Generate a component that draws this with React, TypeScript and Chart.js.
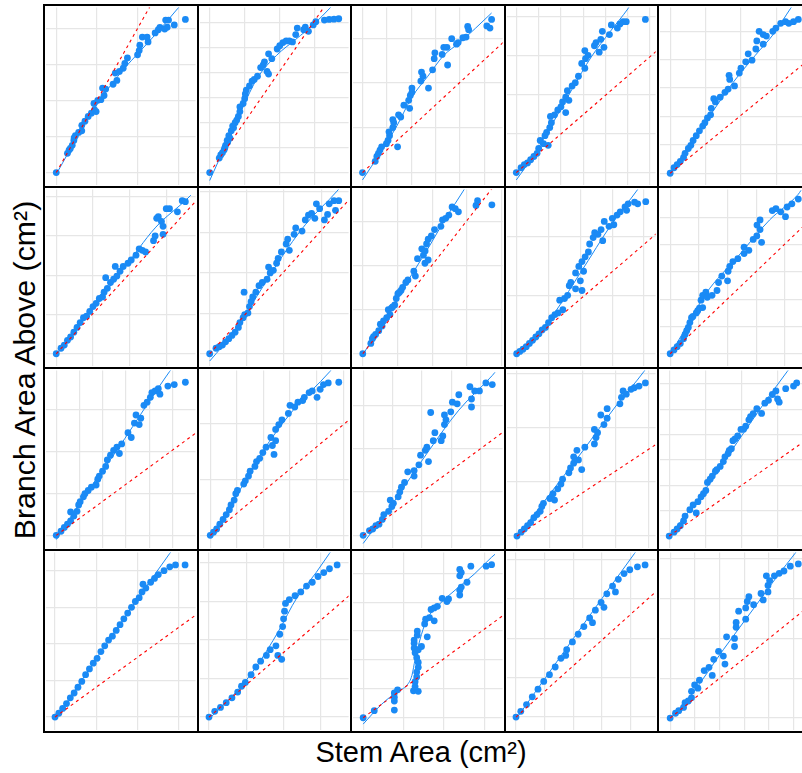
import React, { useEffect, useRef } from "react";
import { Chart, registerables } from "chart.js";
Chart.register(...registerables);

// ---- Panel layout (pixels of the facet grid) ----
const COL_LEFT = [44, 198, 351, 505, 658, 812];
const ROW_TOP = [5, 187, 368, 550, 732];

// ---- Data: stem area (x) vs branch area above (y), per tree panel ----
const r1c1Stem = [9.3,21,22.7,24,26,27.7,28,29.3,32.7,36,36,39.3,42.7,46,49.3,51,48.7,52.7,56,59.3,57.7,61,68.7,72.7,71,75.3,79.3,81,83.7,94.3,96,96.7,99.3,104.3,105.3,112.7,116,117.7,122.7,125.3,123.7,126.7,132.7,144.3];
const r1c1Branch = [11.5,31.5,34.8,36.5,39.8,44.8,47.5,49.8,53.2,54.8,60.5,64.8,69.8,73.2,76.5,74.8,83.2,86.5,87.2,91.5,99.2,98.2,103.2,107.2,114.8,116.5,119.8,124.8,130.5,133.8,138.2,143.8,152.2,152.2,147.2,156.5,159.8,162.2,160.5,162.5,169.8,169.8,164.8,170.5];
const r1c1FitStem = [9.3,36,56,79.3,96,116,136,140];
const r1c1FitBranch = [9.8,56.5,88.2,118.2,136.5,158.2,181.5,186];

const r1c2Stem = [8.7,18.7,20.3,23.7,25.3,27,28.7,31.3,32.7,35.3,38.7,40.3,40.3,43.7,45.3,46,47,50.3,53,55.3,58.7,62,64.7,66,68.7,70.3,70.3,73.7,79.3,82,85.3,88.7,92,95.3,98.7,100.3,107,108.7,112,117,119.7,128.7,133.7,138.7,143.7,22,24.5,27.5,30,33.7,37];
const r1c2Branch = [11.5,26.5,29.8,34.8,39.8,44.8,49.8,54.8,59.8,63.2,69.8,74.8,79.8,83.2,88.2,93.2,97.2,101.5,106.5,108.2,111.5,120.5,123.2,126.5,116.5,113.8,134.8,129.8,139.8,143.2,146.5,148.2,148.2,147.2,154.8,161.5,159.8,162.5,158.2,164.8,168.2,169.8,170.5,170.8,171.2,32,37,43,47,58,66];
const r1c2FitStem = [8.7,25.3,42,58.7,78.7,98.7,118.7,133.7,138];
const r1c2FitBranch = [3.2,39.8,76.5,109.8,133.2,149.8,166.5,181.5,186];

const r1c3Stem = [8.5,21.8,23.5,25.2,26.8,28.5,33.5,35.2,36.8,36.2,45.2,40.2,41.2,40.2,46.2,48.5,51.8,56.8,57.8,58.5,60.2,60.2,69.5,71.8,70.2,77.5,81.8,83.5,84.2,91.8,93.5,96.8,97.5,101.8,106.8,108.5,113.5,116.8,118.5,119.5,138.5,141.8,143.5];
const r1c3Branch = [11.5,23.2,28.2,31.5,34.8,38.2,41.5,44.8,49.8,53.8,38.2,58.2,63.2,66.5,71.5,69.2,81.5,86.5,78.2,91.5,94.8,99.2,106.5,111.5,115.8,99.2,118.2,129.8,135.8,134.2,141.5,141.5,123.2,150.5,144.8,146.5,151.5,152.2,163.2,159.8,163.8,161.5,170.5];
const r1c3FitStem = [8.5,26.8,43.5,60.2,76.8,93.5,110.2,126.8,143.5];
const r1c3FitBranch = [3.8,31.5,58.2,89.8,111.5,133.2,146.5,161.5,177.2];

const r1c4Stem = [8.3,13.3,16.7,20,23.3,26.7,30,31.7,36.7,33.3,38.3,41.7,40,43.3,45,44,48.3,51.7,55,56.7,60,60,61.7,63.3,66.7,70,73.3,76.7,80,80.7,83.3,80,90,91.7,95,96.7,98.3,100,105.7,107.7,114,116.7,120,123.3,143.3];
const r1c4Branch = [11.5,16.5,19.8,21.5,24.8,28.2,31.5,36.5,41.5,44.8,49.8,39.8,53.2,58.2,63.2,69.8,71.5,76.5,79.8,84.8,73.8,89.8,96.5,86.5,101.5,104.8,111.5,124.8,119.8,129.8,133.2,138.2,143.2,146.5,136.5,149.8,158.2,141.5,154.8,164.8,161.5,165.8,168.2,168.2,170.5];
const r1c4FitStem = [8.3,26.7,46.7,66.7,86.7,106.7,125,128];
const r1c4FitBranch = [3.8,29.8,63.2,98.2,131.5,158.2,181.5,186];

const r1c5Stem = [9.2,13.2,16.5,19.8,23.2,24.8,28.2,30.8,33.2,36.5,39.8,43.2,45.5,48.2,51.5,52.2,54.8,56.5,61.5,66.5,69.8,71.5,70.8,76.5,81.5,83.2,88.2,90.8,94.8,98.8,99.8,106.5,102.2,106.5,109.8,116.5,119.8,124.8,129.8,133.2,138.2,143.2];
const r1c5Branch = [10.8,16.5,19.8,23.2,27.2,31.5,36.5,39.8,44.8,49.8,54.8,59.8,63.2,68.2,71.5,78.2,88.2,84.8,89.8,94.8,98.2,108.2,112.5,101.5,114.8,119.8,126.5,134.8,128.2,139.8,148.2,144.8,158.2,154.8,153.2,158.2,161.5,166.5,168.2,166.5,168.2,170.5];
const r1c5FitStem = [9.2,31.5,54.8,74.8,98.2,118.2,134.8,138];
const r1c5FitBranch = [9.8,43.2,76.5,104.8,133.2,156.5,181.5,186];

const r2c1Stem = [9.3,14.3,17.7,21,24.3,27.7,31,34.3,37.7,41,44.3,47.7,51,54.3,57.7,59.3,62.7,61,66,69.3,71,72.7,76,79.3,84.3,87.7,92.7,96,99.3,102.7,111,112.7,114.3,116,119.3,121,121,124.3,127.7,136,141,144.3];
const r2c1Branch = [11.3,17,20.3,25.3,28.7,33.7,38.7,43.7,48.7,50.3,55.3,60.3,63.7,68.7,70.3,75.3,79.3,90.3,85.3,88.7,102,92,97,102,105.3,108.7,113.7,120.3,118.7,117,128.7,133.7,152,153.7,148.7,143.7,135.3,162,162,158.7,170.3,169.3];
const r2c1FitStem = [9.3,46,79.3,112.7,146,150];
const r2c1FitBranch = [10.3,57,98.7,142,172,176];

const r2c2Stem = [8.7,15.3,18.7,22,25.3,28.7,32,35.3,38.7,40.3,43.7,45.3,48.7,44.7,50.3,52,53.7,57,60.3,63.7,68.7,72,70.3,75.3,78.7,80.3,83.7,88.7,90.3,92,97,98.7,105.3,108.7,112,115.3,118.7,120.3,123.7,128.7,132,133.7,138.7,143.7,140.3];
const r2c2Branch = [11.3,17,18.7,20.3,23.7,27,30.3,33.7,38.7,43.7,48.7,52,53.7,75.3,60.3,65.3,70.3,75.3,82,85.3,88.7,95.3,101.3,98,105.3,110.3,117,125.3,130.3,118.7,135.3,142,138.7,150.3,155.3,157,152,167,162,150.3,156,167,170.3,170.3,160.3];
const r2c2FitStem = [8.7,35.3,58.7,82,108.7,142,145];
const r2c2FitBranch = [3.7,35.3,72,108.7,145.3,180.3,184];

const r2c3Stem = [8.8,17.2,18.8,22.2,25.5,27.2,30.5,33.8,37.2,35.5,38.8,42.2,43.8,45.5,48.8,50.5,53.8,62.2,63.8,70.5,72.2,73.8,77.2,75.5,77.2,80.5,83.8,90.5,92.2,95.5,98.8,102.2,105.5,108.8,127.2,128.8,143.8,20,29,40,47,56,66,74];
const r2c3Branch = [11.3,22,27,31.3,35.3,42,45.3,48.7,52,57,58.7,62,68.7,73.7,77,80.3,85.3,97,92,120.3,113.7,105.3,108.7,125.3,130.3,133.7,140.3,143.7,150.3,152,155.3,163.7,162,158.7,165.3,170.3,166,29,40,60,75,88,110,118];
const r2c3FitStem = [8.8,28.8,45.5,62.2,78.8,95.5,113.8,116];
const r2c3FitBranch = [10.3,42,70.3,97,123.7,152,180.3,184];

const r2c4Stem = [8.7,12,15.3,18.7,22,25.3,28.7,32,35.3,38.7,42,45.3,48.7,52,57,53.7,58.7,62,63.7,65.3,70.3,77,75.3,70.3,73.7,77,78.7,80.3,83.7,85,88.7,90.3,93.7,97,98.7,100.3,105.3,108.7,110.3,113.7,117,122,125.3,123.7,132,135.3,143.7];
const r2c4Branch = [11.3,13.7,16,18.7,22,25.3,28.7,32,36,38.7,43.7,48.7,52,53.7,57,67,68.7,72,82,85.3,78.7,77,87,95.3,102,107,97,112,117,125.3,132,137,135.3,140.3,128.7,148.7,143.7,152,145.3,155.3,158.7,163.7,167,160.3,168.7,167,169.3];
const r2c4FitStem = [8.7,42,75.3,108.7,135.3,138];
const r2c4FitBranch = [11.3,45.3,95.3,147,182,186];

const r2c5Stem = [9.2,13.2,16.5,19.8,23.2,24.8,26.5,28.2,29.8,31.5,36.5,39.8,43.2,41.5,43.2,46.5,58.2,59.8,63.2,69.2,69.8,71.5,74.8,86.5,86.5,91.5,99.8,103.2,103.2,104.8,119.8,124.8,129.8,131.5,136.5,143.2,33,38,48,53,80,96,100,116];
const r2c5Branch = [11.3,15.3,18.7,22,27,31.3,35.3,38.7,43.7,48.7,53.7,58.7,59.3,67,72,75.3,77,85.3,92,87,97,102,107,115.3,122,118.7,133.7,140.3,150.3,127,162,158.7,153.7,163.7,167,172,50,56,70,72,110,130,145,160];
const r2c5FitStem = [9.2,29.8,46.5,79.8,113.2,143.2,146];
const r2c5FitBranch = [10.3,45.3,73.7,112,150.3,177,181];

const r3c1Stem = [9.3,14.3,17.7,21,24.3,24.3,27.7,31,32.7,34.3,37.7,39.3,42.7,46,51,52.7,54.3,57.7,61,62.7,66,69.3,72.7,75.3,77.7,84.3,87.7,91,92.7,96,97.7,101,104.3,107.7,109.3,112.7,116,117.7,126,132.7,144.3];
const r3c1Branch = [11.7,16,20,23.3,26.7,36,31.7,36.7,43.3,46.7,51.7,55,58.3,61.7,64,70,73.3,78.3,83.3,90,95,100,103.3,96.7,106.7,118.3,113.3,128.3,136.7,126.7,133.3,146.7,150,155,160,161.7,164,158.3,166.7,168.3,170.7];
const r3c1FitStem = [9.3,39.3,72.7,106,127.7,131];
const r3c1FitBranch = [7.3,53.3,100,150,181.7,186];

const r3c2Stem = [9.3,12.7,16,19.3,22.7,26,29.3,31,34.3,36,37.7,44.3,46,49.3,51,56,57.7,61,64.3,67.7,72.7,74.3,76,77.7,77.7,81,84.3,91,92.7,97.7,101,106,107.7,112.7,116,121,124.3,127.7,132.7,143.7];
const r3c2Branch = [11.7,15,18.3,23.3,28.3,33.3,38.3,43.3,48.3,55,58.3,65,68.3,73.3,78.3,83.3,88.3,91.7,97.7,103.3,113.3,105,95.7,110,121.7,126.7,131.7,138.3,146.7,145,150,151.7,155,160,161.7,155,163.3,168.3,170,170.7];
const r3c2FitStem = [9.3,29.3,62.7,96,134.3,137];
const r3c2FitBranch = [10,40,96.7,141.7,181.7,185];

const r3c3Stem = [9.2,15.8,19.2,22.5,25.8,29.2,30.8,35.8,39.2,40.8,37.5,45.8,47.5,49.2,52.5,55.8,62.5,62.5,67.5,69.2,77.5,74.2,75.8,82.5,84.2,90.8,92.5,94.2,95.8,94.2,79.8,100.8,102.5,107.5,109.2,122.5,122.5,120.8,125.8,130.8,137.5,144.2];
const r3c3Branch = [11.7,16.7,18.3,21.7,23.3,28.3,33.3,36.7,41.7,45,48.3,51.7,56.7,61.7,66.7,77.7,73.3,79,85,95,88.3,100,103.3,110,118.3,110,115,126.7,131.7,136.7,139.3,140,150,148.3,157.7,153.3,145,166,161.7,161.7,170,168.3];
const r3c3FitStem = [9.2,42.5,75.8,109.2,144.2,147];
const r3c3FitBranch = [3.3,48.3,96.7,141.7,177.7,181];

const r3c4Stem = [9,13.3,16.7,20,23.3,26.7,30,33.3,35,36.7,43.3,48.3,46.7,51.7,55,56.7,63.3,65,68.3,68.3,71.7,73.3,76.7,80,90,91.7,90,93.3,96.7,100,103.3,103.3,116.7,118.3,120,123.3,128.3,131.7,136.7,143.3];
const r3c4Branch = [11,15,18.3,21.7,25,30,33.3,36.7,41.7,45,50,48.3,55,60,65,70,76.7,81.7,86.7,93.3,100,90,80,103.3,106.7,113.3,121.7,118.3,136.7,126.7,133.3,143.3,148.3,155,161.7,158.3,163.3,165,166.7,170];
const r3c4FitStem = [9,45,78.3,111.7,141.7,144];
const r3c4FitBranch = [10,56.7,100,145,181.7,185];

const r3c5Stem = [8.2,13.2,16.5,19.8,23.2,24.8,29.8,33.2,36.5,38.2,41.5,46.5,48.2,53.2,56.5,61.5,64.8,66.5,69.8,73.2,74.8,79.8,83.2,88.2,91.5,93.2,99.8,104.8,108.2,119.8,121.5,123.2,138.2,141.5,44,51,58,71,77,86,96,112,116,130];
const r3c5Branch = [11,15,18.3,21.7,26.7,31.7,38.3,43.3,35,46.7,51.7,58.3,66.7,73.3,78.3,83.3,88.3,93.3,96.7,101.7,110,115,121.7,125,131.7,135,143.3,138.3,149,161.7,153.3,150,166.7,170,55,70,80,100,112,122,138,152,158,164];
const r3c5FitStem = [8.2,41.5,74.8,108.2,131.5,134];
const r3c5FitBranch = [11,53.3,101.7,150,181.7,185];

const r4c1Stem = [8,12,16,20,24,28,32,36,40,44,48,52,56,60,64,68,72,76,80,84,88,92,96,99,103,100,108,112,116,122,128,134,144];
const r4c1Branch = [12,16,21,26,32,37,43,49,56,62,68,73,80,86,92,96,102,108,114,120,126,132,136,142,146,150,152,156,160,164,168,170,170];
const r4c1FitStem = [8,56,96,128,131];
const r4c1FitBranch = [9,80,137,182,186];

const r4c2Stem = [8,14,20,26,32,38,42,46,52,57,62,68,72,78,82,85,86,87,88,80,84,92,98,104,110,116,122,128,134,142];
const r4c2Branch = [12,18,22,27,32,38,44,48,56,64,70,76,82,86,98,106,114,122,130,76,72,134,138,142,148,152,158,162,166,170];
const r4c2FitStem = [8,40,60,80,100,120,134,137];
const r4c2FitBranch = [10,42,68,100,136,162,182,186];

const r4c3Stem = [9.2,20.8,41.8,41.8,41.8,41.8,45.2,61.8,66.8,63.5,63.5,65.2,65.2,66.8,66.8,65.2,63.5,62.5,62.5,62.5,66.8,70.2,65.8,65.8,76.2,73.5,74.5,78.5,83.5,80.2,83.5,86.8,91.8,96.8,98.5,110.2,110.2,111.8,117.8,110.2,110.2,111.8,121.8,137.8,143.5];
const r4c3Branch = [11.3,18.7,19.3,28.7,32.7,37,40.3,39.3,38.7,43.7,48.7,53.7,58.7,63.7,68.7,73.7,78.7,83.7,88.7,92,82,85.3,97,101.3,95.3,108.7,113.7,115.3,112,123.7,125.3,127,135.3,132,134.7,138.7,143.7,147,152,158.7,165.3,162,168.7,168.7,170.3];
const r4c3FitStem = [9.2,28.5,45.2,55.2,60.2,63.5,68.5,75.2,88.5,105.2,125.2,143.5,147];
const r4c3FitBranch = [4.7,25.3,38.7,45.3,55.3,72,92,112,128.7,143.7,160.3,178,181];

const r4c4Stem = [8,13,19,25,31,37,43,49,55,61,67,73,79,85,91,97,103,109,115,121,127,135,143,60,88,100,112];
const r4c4Branch = [12,18,25,33,41,49,56,64,73,82,90,98,106,115,123,131,140,148,155,161,165,168,170,76,110,126,142];
const r4c4FitStem = [8,132,135];
const r4c4FitBranch = [10,182,186];

const r4c5Stem = [9.2,14.8,18.2,23.2,24.8,28.2,31.5,31.5,34.8,38.2,39.8,44.8,49.8,53.2,54.8,59.8,64.8,66.5,68.2,76.5,76.5,78.2,78.2,80.8,88.2,88.2,89.8,91.5,96.5,104.2,106.5,111.5,111.5,113.2,109.8,118.2,123.2,128.2,134.8,143.2];
const r4c5Branch = [11,16,18.7,22,27,28.7,32,38.7,45.3,42,50.3,60.3,63.7,55.3,72,80.3,75.3,67,95.3,85.3,93.7,105.3,110.3,122,113.7,125.3,132,137,128.7,140.3,133.7,142,148.7,153.7,158.7,158.7,161.3,163.7,168.7,171];
const r4c5FitStem = [9.2,31.5,64.8,98.2,121.5,139.8,142];
const r4c5FitBranch = [10.3,35.3,82,127,158.7,182,185];

// slope (on screen units) of the 1:1 reference line for each panel
const refSlopes = [1.76, 1.437, 0.919, 0.86, 0.813, 1.086, 1.098, 1.27, 0.853, 0.95, 0.728, 0.826, 0.733, 0.654, 0.696, 0.72, 0.86, 0.726, 0.89, 0.8];
// grid spacing per panel
const gridStepX = [42.5, 36.7, 25.5, 23.3, 37, 38.3, 38.9, 36.3, 33.3, 30, 24.3, 27.8, 30.7, 34.4, 37.8, 43, 39, 42.2, 30, 25.8];
const gridStepY = [37.5, 26, 46.5, 40.5, 29.5, 40.8, 42, 45.7, 60.7, 28.3, 43.7, 57.8, 45, 56.3, 26.3, 38, 40, 30, 41, 41.3];

const stems = [r1c1Stem, r1c2Stem, r1c3Stem, r1c4Stem, r1c5Stem, r2c1Stem, r2c2Stem, r2c3Stem, r2c4Stem, r2c5Stem, r3c1Stem, r3c2Stem, r3c3Stem, r3c4Stem, r3c5Stem, r4c1Stem, r4c2Stem, r4c3Stem, r4c4Stem, r4c5Stem];
const branches = [r1c1Branch, r1c2Branch, r1c3Branch, r1c4Branch, r1c5Branch, r2c1Branch, r2c2Branch, r2c3Branch, r2c4Branch, r2c5Branch, r3c1Branch, r3c2Branch, r3c3Branch, r3c4Branch, r3c5Branch, r4c1Branch, r4c2Branch, r4c3Branch, r4c4Branch, r4c5Branch];
const fitStems = [r1c1FitStem, r1c2FitStem, r1c3FitStem, r1c4FitStem, r1c5FitStem, r2c1FitStem, r2c2FitStem, r2c3FitStem, r2c4FitStem, r2c5FitStem, r3c1FitStem, r3c2FitStem, r3c3FitStem, r3c4FitStem, r3c5FitStem, r4c1FitStem, r4c2FitStem, r4c3FitStem, r4c4FitStem, r4c5FitStem];
const fitBranches = [r1c1FitBranch, r1c2FitBranch, r1c3FitBranch, r1c4FitBranch, r1c5FitBranch, r2c1FitBranch, r2c2FitBranch, r2c3FitBranch, r2c4FitBranch, r2c5FitBranch, r3c1FitBranch, r3c2FitBranch, r3c3FitBranch, r3c4FitBranch, r3c5FitBranch, r4c1FitBranch, r4c2FitBranch, r4c3FitBranch, r4c4FitBranch, r4c5FitBranch];

const BLUE = "#1a8af5";
const FONT = "'Liberation Sans', Arial, Helvetica, sans-serif";

const pairs = (xs: number[], ys: number[]) => {
  const n = Math.min(xs.length, ys.length);
  const out: { x: number; y: number }[] = [];
  for (let i = 0; i < n; i++) out.push({ x: xs[i], y: ys[i] });
  return out;
};

const gridTicks = (origin: number, step: number, min: number, max: number) => {
  const t: { value: number }[] = [];
  let v = origin;
  while (v - step >= min) v -= step;
  for (; v <= max; v += step) t.push({ value: v });
  return t;
};

const borderPlugin = {
  id: "panelBorder",
  afterDraw(chart: any) {
    const ctx = chart.ctx;
    ctx.save();
    ctx.strokeStyle = "#000";
    ctx.lineWidth = 2;
    ctx.strokeRect(1, 1, chart.width - 2, chart.height - 2);
    ctx.restore();
  },
};

function Panel({ idx }: { idx: number }) {
  const ref = useRef<HTMLCanvasElement>(null);
  const r = Math.floor(idx / 5);
  const c = idx % 5;
  const left = COL_LEFT[c] - 1;
  const top = ROW_TOP[r] - 1;
  const w = COL_LEFT[c + 1] - COL_LEFT[c] + 2;
  const h = ROW_TOP[r + 1] - ROW_TOP[r] + 2;

  useEffect(() => {
    if (!ref.current) return;
    const xs = stems[idx];
    const ys = branches[idx];
    const x0 = xs[0];
    const y0 = ys[0];
    const s = refSlopes[idx];
    const far = 400;
    const xMin = -1, xMax = w - 1, yMin = -1, yMax = h - 1;
    const chart = new Chart(ref.current, {
      type: "scatter",
      data: {
        datasets: [
          {
            data: [{ x: x0, y: y0 }, { x: x0 + far, y: y0 + far * s }],
            showLine: true,
            borderColor: "#ff0000",
            borderWidth: 1.1,
            borderDash: [3, 3.5],
            pointRadius: 0,
          },
          {
            data: pairs(fitStems[idx], fitBranches[idx]),
            showLine: true,
            borderColor: BLUE,
            borderWidth: 1,
            cubicInterpolationMode: "monotone",
            pointRadius: 0,
          },
          {
            data: pairs(xs, ys),
            backgroundColor: BLUE,
            borderWidth: 0,
            pointRadius: 3.4,
            pointHoverRadius: 3.4,
          },
        ] as any,
      },
      options: {
        animation: false,
        responsive: false,
        maintainAspectRatio: false,
        devicePixelRatio: 1,
        events: [],
        layout: { padding: 0 },
        plugins: { legend: { display: false }, tooltip: { enabled: false } },
        scales: {
          x: {
            type: "linear",
            min: xMin,
            max: xMax,
            afterBuildTicks: (axis: any) => {
              axis.ticks = gridTicks(x0, gridStepX[idx], xMin + 1, xMax - 1);
            },
            ticks: { display: false },
            grid: { color: "#e6e6e6", lineWidth: 1.2, drawTicks: false },
            border: { display: false },
          },
          y: {
            type: "linear",
            min: yMin,
            max: yMax,
            afterBuildTicks: (axis: any) => {
              axis.ticks = gridTicks(y0, gridStepY[idx], yMin + 1, yMax - 1);
            },
            ticks: { display: false },
            grid: { color: "#e6e6e6", lineWidth: 1.2, drawTicks: false },
            border: { display: false },
          },
        },
      } as any,
      plugins: [borderPlugin],
    });
    return () => chart.destroy();
  }, [idx]);

  return (
    <canvas
      ref={ref}
      width={w}
      height={h}
      style={{ position: "absolute", left, top, width: w, height: h }}
    />
  );
}

export default function App() {
  const panels = [];
  for (let i = 0; i < 20; i++) panels.push(<Panel key={i} idx={i} />);
  return (
    <div
      style={{
        position: "absolute",
        left: 0,
        top: 0,
        width: 802,
        height: 773,
        overflow: "hidden",
        background: "#fff",
        fontFamily: FONT,
      }}
    >
      {panels}
      <div
        style={{
          position: "absolute",
          left: 221,
          width: 400,
          top: 735,
          textAlign: "center",
          fontSize: 29,
          lineHeight: "34px",
          color: "#000",
          whiteSpace: "nowrap",
        }}
      >
        Stem Area (cm²)
      </div>
      <div
        style={{
          position: "absolute",
          left: 25 - 200,
          top: 369.5 - 17,
          width: 400,
          height: 34,
          textAlign: "center",
          fontSize: 30.3,
          lineHeight: "34px",
          color: "#000",
          whiteSpace: "nowrap",
          transform: "rotate(-90deg)",
        }}
      >
        Branch Area Above (cm²)
      </div>
    </div>
  );
}
